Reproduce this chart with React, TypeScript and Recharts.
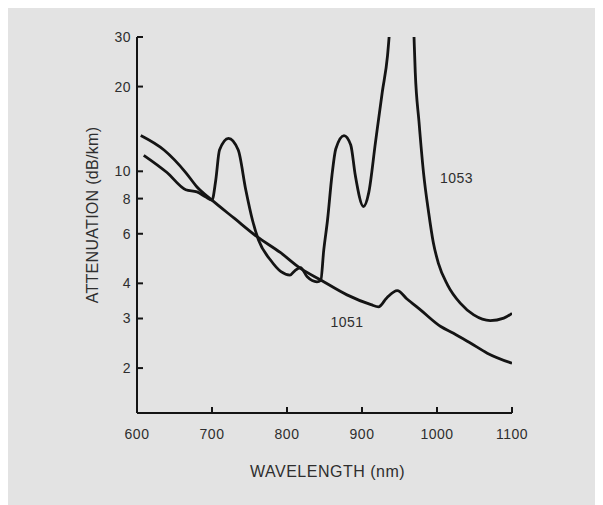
import React from 'react';
import { LineChart, Line, XAxis, YAxis, ReferenceDot, Label } from 'recharts';

// Wavelength (nm) and attenuation (dB/km)
const wl1051 = [605, 636, 665, 680, 700, 730, 760, 791, 818, 845, 880, 912, 922, 933, 947, 960, 978, 1005, 1022, 1045, 1067, 1100];
const att1051 = [13.4, 11.9, 9.9, 8.8, 7.9, 6.8, 5.86, 5.15, 4.52, 4.11, 3.64, 3.36, 3.3, 3.55, 3.77, 3.52, 3.22, 2.81, 2.66, 2.45, 2.26, 2.08];

const wl1053 = [609, 640, 665, 680, 692, 700, 705, 710, 722, 735, 745, 754, 762, 778, 792, 804, 811, 818, 827, 840, 845, 849, 854, 860, 865, 876, 885, 891, 902, 909, 918, 927, 934, 937, 945, 955, 965, 969, 971, 976, 982, 989, 995, 1002, 1014, 1031, 1049, 1071, 1089, 1100];
const att1053 = [11.4, 9.9, 8.6, 8.45, 8.1, 7.9, 9.3, 11.9, 13.1, 11.9, 8.6, 6.7, 5.7, 4.84, 4.4, 4.28, 4.45, 4.55, 4.22, 4.05, 4.1, 5.25, 6.7, 9.7, 12.0, 13.4, 12.4, 9.7, 7.5, 8.4, 12.7, 19.1, 25.7, 32, 60, 90, 60, 32, 22.5, 15.0, 9.9, 7.1, 5.6, 4.7, 3.95, 3.4, 3.09, 2.95, 3.01, 3.13];

const xTicks = [600, 700, 800, 900, 1000, 1100];
const yTicks = [2, 3, 4, 6, 8, 10, 20, 30];

const seriesNames = ['1051', '1053'];
const nameAnchorX = [880, 1026];
const nameAnchorY = [2.91, 9.46];

const xTitle = 'WAVELENGTH (nm)';
const yTitle = 'ATTENUATION (dB/km)';

const data1051 = wl1051.map((x, i) => ({ x, y: att1051[i] }));
const data1053 = wl1053.map((x, i) => ({ x, y: att1053[i] }));

const FONT = '"Liberation Sans", Arial, Helvetica, sans-serif';
const INK = '#141414';
const TXT = '#2e2e2e';

const X_MARGIN = 16;
const Y_MARGIN = 6;
const TICK_LEN = 6;

const XTick = (props: any) => {
  const { x, y, payload } = props;
  const axisY = y - X_MARGIN;
  return (
    <g>
      <line x1={x} x2={x} y1={axisY} y2={axisY - TICK_LEN} stroke={INK} strokeWidth={2} />
      <text x={x} y={y} dy="0.71em" textAnchor="middle" fontSize={14} fill={TXT} fontFamily={FONT} letterSpacing={0.5}>
        {payload.value}
      </text>
    </g>
  );
};

const YTick = (props: any) => {
  const { x, y, payload } = props;
  const axisX = x + Y_MARGIN;
  return (
    <g>
      <line x1={axisX} x2={axisX + TICK_LEN} y1={y} y2={y} stroke={INK} strokeWidth={2} />
      <text x={x} y={y} dy="0.355em" textAnchor="end" fontSize={14} fill={TXT} fontFamily={FONT} letterSpacing={0.5}>
        {payload.value}
      </text>
    </g>
  );
};

export default function App() {
  return (
    <div style={{ width: 595, height: 497, background: '#e3e3e3' }}>
      <LineChart width={595} height={497} margin={{ top: 29, right: 91, bottom: 52, left: 68 }}>
        <XAxis
          type="number"
          dataKey="x"
          domain={[600, 1100]}
          ticks={xTicks}
          interval={0}
          allowDataOverflow
          height={40}
          tickSize={0}
          tickMargin={X_MARGIN}
          axisLine={{ stroke: INK, strokeWidth: 2 }}
          tickLine={false}
          tick={<XTick />}
        >
          <Label
            content={(props: any) => {
              const vb = props.viewBox || {};
              const cx = vb.x + vb.width / 2 + 3;
              const y = vb.y + vb.height + 24;
              return (
                <text x={cx} y={y} textAnchor="middle" fontSize={16} fill={TXT} fontFamily={FONT} letterSpacing={0.5}>
                  {xTitle}
                </text>
              );
            }}
          />
        </XAxis>
        <YAxis
          type="number"
          dataKey="y"
          scale="log"
          domain={[1.385, 30]}
          ticks={yTicks}
          interval={0}
          allowDataOverflow
          width={61}
          tickSize={0}
          tickMargin={Y_MARGIN}
          axisLine={{ stroke: INK, strokeWidth: 2 }}
          tickLine={false}
          tick={<YTick />}
        >
          <Label
            content={(props: any) => {
              const vb = props.viewBox || {};
              const x = vb.x + 22;
              const y = vb.y + vb.height / 2 - 10;
              return (
                <text
                  x={x}
                  y={y}
                  textAnchor="middle"
                  fontSize={16}
                  fill={TXT}
                  fontFamily={FONT}
                  letterSpacing={0.3}
                  transform={`rotate(-90, ${x}, ${y})`}
                >
                  {yTitle}
                </text>
              );
            }}
          />
        </YAxis>
        <Line
          data={data1051}
          dataKey="y"
          name={seriesNames[0]}
          type="monotone"
          stroke={INK}
          strokeWidth={2.8}
          dot={false}
          activeDot={false}
          isAnimationActive={false}
        />
        <Line
          data={data1053}
          dataKey="y"
          name={seriesNames[1]}
          type="monotone"
          stroke={INK}
          strokeWidth={2.8}
          dot={false}
          activeDot={false}
          isAnimationActive={false}
        />
        {seriesNames.map((n, i) => (
          <ReferenceDot
            key={n}
            x={nameAnchorX[i]}
            y={nameAnchorY[i]}
            r={0}
            fill="none"
            stroke="none"
            label={{ value: n, position: 'center', fontSize: 14, fill: TXT, fontFamily: FONT, letterSpacing: 0.5 } as any}
          />
        ))}
      </LineChart>
    </div>
  );
}
